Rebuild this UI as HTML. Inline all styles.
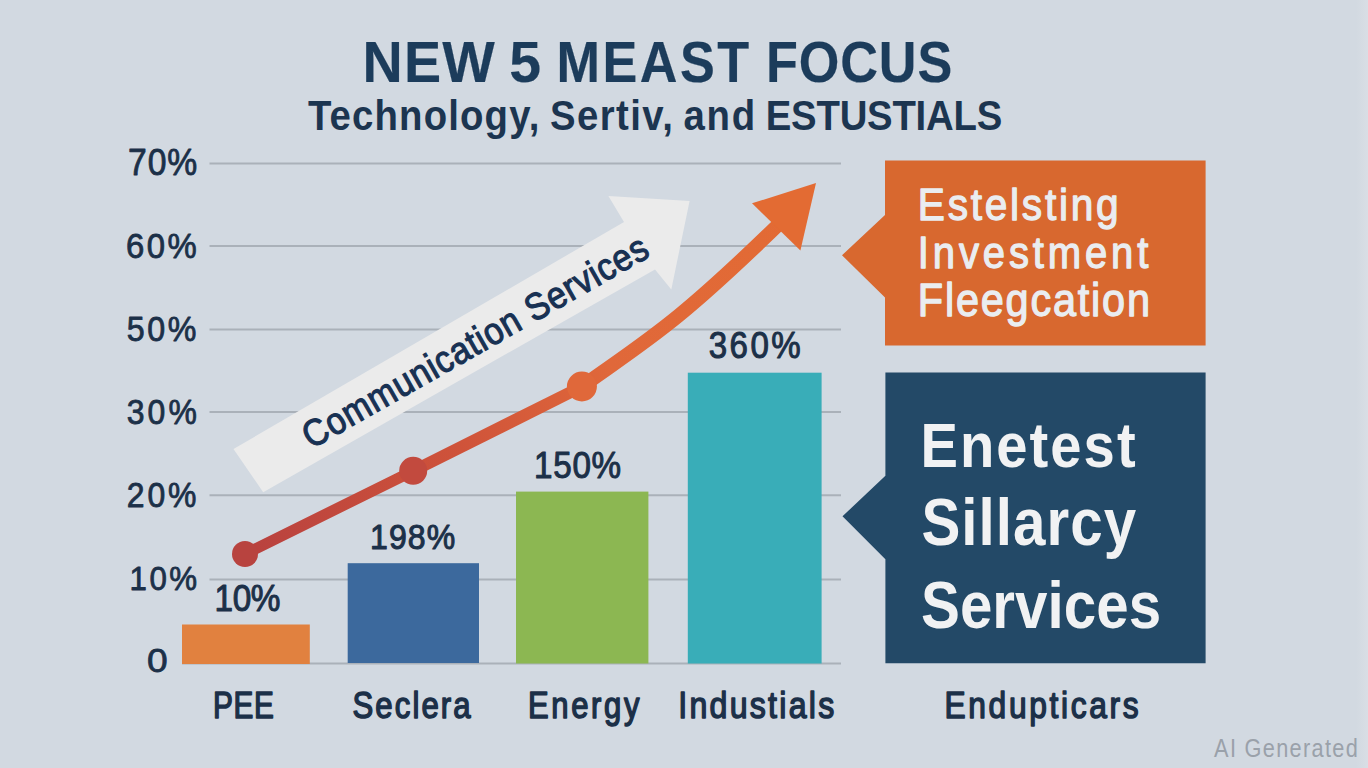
<!DOCTYPE html>
<html><head><meta charset="utf-8"><title>Chart</title>
<style>html,body{margin:0;padding:0;width:1368px;height:768px;overflow:hidden;background:#d2d9e1;}svg{display:block;font-family:"Liberation Sans",sans-serif;}</style>
</head><body>
<svg width="1368" height="768" viewBox="0 0 1368 768">
<rect x="0" y="0" width="1368" height="768" fill="#d2d9e1"/>
<defs><linearGradient id="eg" x1="0" x2="1" y1="0" y2="0"><stop offset="0" stop-color="#d2d9e1"/><stop offset="1" stop-color="#d9dee5"/></linearGradient></defs><rect x="1356" y="0" width="12" height="768" fill="url(#eg)"/>
<line x1="209.5" y1="163.5" x2="841" y2="163.5" stroke="#aab1b9" stroke-width="2"/>
<line x1="209.5" y1="246" x2="841" y2="246" stroke="#aab1b9" stroke-width="2"/>
<line x1="209.5" y1="329.5" x2="841" y2="329.5" stroke="#aab1b9" stroke-width="2"/>
<line x1="209.5" y1="412" x2="841" y2="412" stroke="#aab1b9" stroke-width="2"/>
<line x1="209.5" y1="495.2" x2="841" y2="495.2" stroke="#aab1b9" stroke-width="2"/>
<line x1="209.5" y1="579.6" x2="841" y2="579.6" stroke="#aab1b9" stroke-width="2"/>
<line x1="209.5" y1="663.5" x2="841" y2="663.5" stroke="#aab1b9" stroke-width="2"/>
<line x1="182" y1="663.5" x2="209.5" y2="663.5" stroke="#aab1b9" stroke-width="2"/>
<rect x="182" y="624.5" width="127.8" height="39.5" fill="#e1813f"/>
<rect x="347.7" y="563.2" width="131.3" height="99.8" fill="#3c699d"/>
<rect x="516" y="491.6" width="132.4" height="171.9" fill="#8cb752"/>
<rect x="687.8" y="372.7" width="133.8" height="290.8" fill="#39adb8"/>
<polygon points="233.5,449 624,222 608.4,196 689.6,201 671.3,289.4 655,269.4 263.2,492.2" fill="#ebebeb"/>
<defs><linearGradient id="rg" x1="245" y1="554" x2="816" y2="183" gradientUnits="userSpaceOnUse">
<stop offset="0" stop-color="#b8413f"/><stop offset="0.35" stop-color="#cf533a"/><stop offset="0.6" stop-color="#e0683a"/><stop offset="1" stop-color="#e36b33"/></linearGradient></defs>
<path d="M245,554 L413,471" fill="none" stroke="url(#rg)" stroke-width="11" stroke-linecap="round"/>
<path d="M413,471 L582,386.5" fill="none" stroke="url(#rg)" stroke-width="12" stroke-linecap="round"/>
<path d="M582,386.5 C650,338 675,325 778,225" fill="none" stroke="url(#rg)" stroke-width="14" stroke-linecap="round" stroke-linejoin="round"/>
<polygon points="816,183 752,203.3 800.4,250.6" fill="#e36b33"/>
<circle cx="245" cy="554" r="13" fill="#b8433f"/>
<circle cx="413.2" cy="470.8" r="14" fill="#c24a3e"/>
<circle cx="581.9" cy="386.5" r="15" fill="#e0683a"/>
<polygon points="885,160.5 1205.6,160.5 1205.6,345.6 885,345.6 885,297.6 842,255.2 885,215" fill="#d8682f"/>
<polygon points="885.4,372.4 1205.6,372.4 1205.6,663.3 885.4,663.3 885.4,559.2 842.5,516.3 885.4,475.8" fill="#234967"/>
<text x="0" y="0" font-family="Liberation Sans" font-size="37.6" textLength="435" lengthAdjust="spacing" fill="#183153" stroke="#183153" stroke-width="1.1" vector-effect="non-scaling-stroke" transform="translate(311.3,449.6) rotate(-29.7) scale(0.9,1)">Communication Services</text>
<text transform="translate(362.60,81.50) scale(0.9600,1)" font-family="Liberation Sans" font-weight="bold" font-size="57.99" textLength="137.77" lengthAdjust="spacing" fill="#1c3c5b" stroke="#1c3c5b" stroke-width="0.2" stroke-linejoin="round" vector-effect="non-scaling-stroke">NEW</text>
<text transform="translate(509.30,81.50) scale(0.9864,1)" font-family="Liberation Sans" font-weight="bold" font-size="57.99" fill="#1c3c5b" stroke="#1c3c5b" stroke-width="0.2" stroke-linejoin="round" vector-effect="non-scaling-stroke">5</text>
<text transform="translate(556.60,81.50) scale(0.9000,1)" font-family="Liberation Sans" font-weight="bold" font-size="57.99" textLength="214.04" lengthAdjust="spacing" fill="#1c3c5b" stroke="#1c3c5b" stroke-width="0.2" stroke-linejoin="round" vector-effect="non-scaling-stroke">MEAST</text>
<text transform="translate(766.00,81.50) scale(0.9000,1)" font-family="Liberation Sans" font-weight="bold" font-size="57.99" textLength="206.93" lengthAdjust="spacing" fill="#1c3c5b" stroke="#1c3c5b" stroke-width="0.2" stroke-linejoin="round" vector-effect="non-scaling-stroke">FOCUS</text>
<text transform="translate(307.90,130.40) scale(0.9000,1)" font-family="Liberation Sans" font-weight="bold" font-size="42.59" textLength="257.29" lengthAdjust="spacing" fill="#1c3550">Technology,</text>
<text transform="translate(550.00,130.40) scale(0.9000,1)" font-family="Liberation Sans" font-weight="bold" font-size="42.59" textLength="136.55" lengthAdjust="spacing" fill="#1c3550">Sertiv,</text>
<text transform="translate(683.40,130.40) scale(0.9000,1)" font-family="Liberation Sans" font-weight="bold" font-size="42.59" textLength="79.70" lengthAdjust="spacing" fill="#1c3550">and</text>
<text transform="translate(765.80,130.40) scale(0.9000,1)" font-family="Liberation Sans" font-weight="bold" font-size="42.59" textLength="262.71" lengthAdjust="spacing" fill="#1c3550">ESTUSTIALS</text>
<text transform="translate(127.90,175.10) scale(0.9200,1)" font-family="Liberation Sans" font-weight="normal" font-size="36.63" textLength="75.48" lengthAdjust="spacing" fill="#1c3048" stroke="#1c3048" stroke-width="0.8" stroke-linejoin="round" vector-effect="non-scaling-stroke">70%</text>
<text transform="translate(126.00,258.00) scale(0.9200,1)" font-family="Liberation Sans" font-weight="normal" font-size="35.76" textLength="76.99" lengthAdjust="spacing" fill="#1c3048" stroke="#1c3048" stroke-width="0.8" stroke-linejoin="round" vector-effect="non-scaling-stroke">60%</text>
<text transform="translate(126.70,340.50) scale(0.9200,1)" font-family="Liberation Sans" font-weight="normal" font-size="35.03" textLength="75.74" lengthAdjust="spacing" fill="#1c3048" stroke="#1c3048" stroke-width="0.8" stroke-linejoin="round" vector-effect="non-scaling-stroke">50%</text>
<text transform="translate(126.70,423.60) scale(0.9200,1)" font-family="Liberation Sans" font-weight="normal" font-size="34.74" textLength="76.24" lengthAdjust="spacing" fill="#1c3048" stroke="#1c3048" stroke-width="0.8" stroke-linejoin="round" vector-effect="non-scaling-stroke">30%</text>
<text transform="translate(126.80,507.20) scale(0.9200,1)" font-family="Liberation Sans" font-weight="normal" font-size="34.74" textLength="75.81" lengthAdjust="spacing" fill="#1c3048" stroke="#1c3048" stroke-width="0.8" stroke-linejoin="round" vector-effect="non-scaling-stroke">20%</text>
<text transform="translate(129.50,589.80) scale(0.9200,1)" font-family="Liberation Sans" font-weight="normal" font-size="34.01" textLength="73.47" lengthAdjust="spacing" fill="#1c3048" stroke="#1c3048" stroke-width="0.8" stroke-linejoin="round" vector-effect="non-scaling-stroke">10%</text>
<text transform="translate(147.00,672.00) scale(1.1068,1)" font-family="Liberation Sans" font-weight="normal" font-size="33.58" fill="#1c3048" stroke="#1c3048" stroke-width="0.8" stroke-linejoin="round" vector-effect="non-scaling-stroke">0</text>
<text transform="translate(214.50,611.30) scale(0.9000,1)" font-family="Liberation Sans" font-weight="normal" font-size="37.06" textLength="73.28" lengthAdjust="spacing" fill="#1c3048" stroke="#1c3048" stroke-width="1.0" stroke-linejoin="round" vector-effect="non-scaling-stroke">10%</text>
<text transform="translate(370.00,548.70) scale(0.9000,1)" font-family="Liberation Sans" font-weight="normal" font-size="35.61" textLength="94.60" lengthAdjust="spacing" fill="#1c3048" stroke="#1c3048" stroke-width="1.0" stroke-linejoin="round" vector-effect="non-scaling-stroke">198%</text>
<text transform="translate(534.00,477.50) scale(0.9000,1)" font-family="Liberation Sans" font-weight="normal" font-size="36.92" textLength="96.84" lengthAdjust="spacing" fill="#1c3048" stroke="#1c3048" stroke-width="1.0" stroke-linejoin="round" vector-effect="non-scaling-stroke">150%</text>
<text transform="translate(708.70,358.40) scale(0.9000,1)" font-family="Liberation Sans" font-weight="normal" font-size="36.77" textLength="102.24" lengthAdjust="spacing" fill="#1c3048" stroke="#1c3048" stroke-width="1.0" stroke-linejoin="round" vector-effect="non-scaling-stroke">360%</text>
<text transform="translate(212.90,717.80) scale(0.8002,1)" font-family="Liberation Sans" font-weight="normal" font-size="37.21" textLength="76.20" lengthAdjust="spacing" fill="#1c3048" stroke="#1c3048" stroke-width="1.4" stroke-linejoin="round" vector-effect="non-scaling-stroke">PEE</text>
<text transform="translate(352.50,717.80) scale(0.8500,1)" font-family="Liberation Sans" font-weight="normal" font-size="36.63" textLength="138.99" lengthAdjust="spacing" fill="#1c3048" stroke="#1c3048" stroke-width="1.4" stroke-linejoin="round" vector-effect="non-scaling-stroke">Seclera</text>
<text transform="translate(527.90,717.70) scale(0.8500,1)" font-family="Liberation Sans" font-weight="normal" font-size="36.48" textLength="131.31" lengthAdjust="spacing" fill="#1c3048" stroke="#1c3048" stroke-width="1.4" stroke-linejoin="round" vector-effect="non-scaling-stroke">Energy</text>
<text transform="translate(678.20,717.70) scale(0.8500,1)" font-family="Liberation Sans" font-weight="normal" font-size="37.79" textLength="183.63" lengthAdjust="spacing" fill="#1c3048" stroke="#1c3048" stroke-width="1.4" stroke-linejoin="round" vector-effect="non-scaling-stroke">Industials</text>
<text transform="translate(944.50,717.90) scale(0.8500,1)" font-family="Liberation Sans" font-weight="normal" font-size="37.35" textLength="228.27" lengthAdjust="spacing" fill="#1c3048" stroke="#1c3048" stroke-width="1.4" stroke-linejoin="round" vector-effect="non-scaling-stroke">Endupticars</text>
<text transform="translate(917.80,220.00) scale(0.9000,1)" font-family="Liberation Sans" font-weight="normal" font-size="45.20" textLength="223.23" lengthAdjust="spacing" fill="#eaedf0" stroke="#eaedf0" stroke-width="1.2" stroke-linejoin="round" vector-effect="non-scaling-stroke">Estelsting</text>
<text transform="translate(917.80,267.90) scale(0.9000,1)" font-family="Liberation Sans" font-weight="normal" font-size="44.48" textLength="256.15" lengthAdjust="spacing" fill="#eaedf0" stroke="#eaedf0" stroke-width="1.2" stroke-linejoin="round" vector-effect="non-scaling-stroke">Investment</text>
<text transform="translate(917.80,315.80) scale(0.9000,1)" font-family="Liberation Sans" font-weight="normal" font-size="46.08" textLength="257.97" lengthAdjust="spacing" fill="#eaedf0" stroke="#eaedf0" stroke-width="1.2" stroke-linejoin="round" vector-effect="non-scaling-stroke">Fleegcation</text>
<text transform="translate(920.40,466.70) scale(0.8800,1)" font-family="Liberation Sans" font-weight="bold" font-size="63.81" textLength="244.56" lengthAdjust="spacing" fill="#f1f2f3">Enetest</text>
<text transform="translate(921.40,544.90) scale(0.8800,1)" font-family="Liberation Sans" font-weight="bold" font-size="66.28" textLength="244.17" lengthAdjust="spacing" fill="#f1f2f3">Sillarcy</text>
<text transform="translate(921.00,627.90) scale(0.8800,1)" font-family="Liberation Sans" font-weight="bold" font-size="66.28" textLength="272.86" lengthAdjust="spacing" fill="#f1f2f3">Services</text>
<text transform="translate(1214.10,756.70) scale(0.8500,1)" font-family="Liberation Sans" font-weight="normal" font-size="25.58" textLength="168.98" lengthAdjust="spacing" fill="#9aa1aa">AI Generated</text>
</svg>
</body></html>
